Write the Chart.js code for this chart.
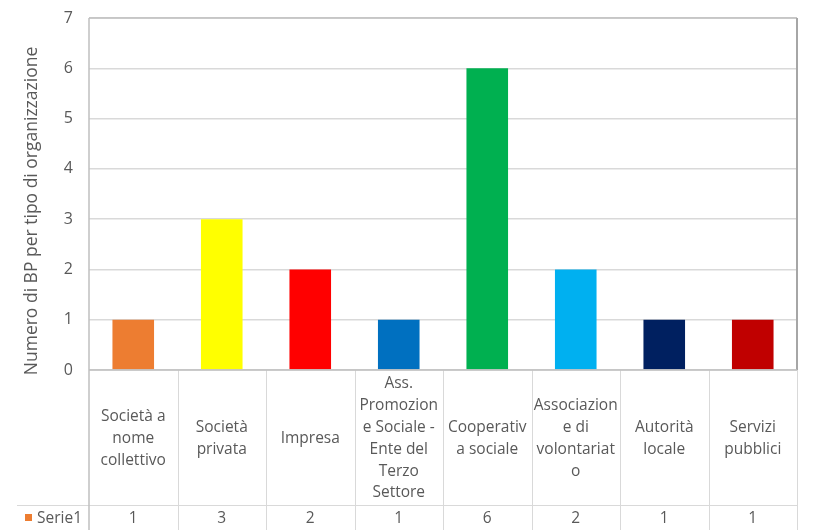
<!DOCTYPE html>
<html><head><meta charset="utf-8">
<script src="https://cdn.jsdelivr.net/npm/chart.js@4"></script>
<style>html,body{margin:0;padding:0;background:#fff}#wrap{width:815px;height:530px;position:relative}</style>
</head><body><div id="wrap"><canvas id="c" width="815" height="530"></canvas></div>
<script>
const categories = [["Società a","nome","collettivo"],["Società","privata"],["Impresa"],["Ass.","Promozion","e Sociale -","Ente del","Terzo","Settore"],["Cooperativ","a sociale"],["Associazion","e di","volontariat","o"],["Autorità","locale"],["Servizi","pubblici"]];
const seriesName = "Serie1";
const values = [1,3,2,1,6,2,1,1];
const barColors = ["#ED7D31","#FFFF00","#FF0000","#0070C0","#00B050","#00B0F0","#002060","#C00000"];
const yTicks = [0,1,2,3,4,5,6,7];
const yTitle = "Numero di BP per tipo di organizzazione";

const FONT = "'Open Sans', sans-serif";
const TXT = "#595959";
const GRID = "#D9D9D9";

const tablePlugin = {
  id: 'tablePlugin',
  afterDraw(chart) {
    const ctx = chart.ctx;
    const ca = chart.chartArea;
    const x = chart.scales.x;
    const H = chart.height;
    const rowY = 505;
    ctx.save();
    // plot border
    ctx.strokeStyle = "#BFBFBF";
    ctx.lineWidth = 1.5;
    ctx.beginPath();
    ctx.moveTo(ca.left, ca.top); ctx.lineTo(ca.right, ca.top);
    ctx.stroke();
    ctx.strokeStyle = "#A6A6A6";
    ctx.lineWidth = 2;
    ctx.beginPath();
    ctx.moveTo(ca.right, ca.top); ctx.lineTo(ca.right, ca.bottom);
    ctx.stroke();
    // table grid
    ctx.strokeStyle = GRID;
    ctx.lineWidth = 1;
    const n = categories.length;
    const step = (ca.right - ca.left) / n;
    ctx.beginPath();
    for (let i = 1; i <= n; i++) {
      const xx = Math.round(ca.left + step * i) + 0.5;
      ctx.moveTo(xx, ca.bottom); ctx.lineTo(xx, H);
    }
    ctx.moveTo(17, rowY + 0.5); ctx.lineTo(ca.right, rowY + 0.5);
    ctx.stroke();
    // left axis line
    ctx.strokeStyle = "#BFBFBF";
    ctx.lineWidth = 1.5;
    ctx.beginPath();
    ctx.moveTo(ca.left, ca.top); ctx.lineTo(ca.left, H);
    ctx.stroke();
    // zero line
    ctx.beginPath();
    ctx.moveTo(ca.left, ca.bottom); ctx.lineTo(ca.right, ca.bottom);
    ctx.stroke();
    // labels
    ctx.fillStyle = TXT;
    ctx.font = "15.5px " + FONT;
    ctx.textAlign = "center";
    ctx.textBaseline = "middle";
    const lh = 21.8;
    const cy = (ca.bottom + rowY) / 2 + 1;
    categories.forEach((lines, i) => {
      const cx = x.getPixelForValue(i);
      const y0 = cy - (lines.length - 1) * lh / 2;
      lines.forEach((t, k) => ctx.fillText(t, cx, y0 + k * lh));
      ctx.fillText(String(values[i]), cx, (rowY + H) / 2 + 1);
    });
    // legend key
    ctx.fillStyle = barColors[0];
    ctx.fillRect(25, 514, 7, 7);
    ctx.fillStyle = TXT;
    ctx.textAlign = "left";
    ctx.fillText(seriesName, 37, (rowY + H) / 2 + 1);
    // y title
    ctx.translate(32, 211);
    ctx.rotate(-Math.PI / 2);
    ctx.textAlign = "center";
    ctx.font = "17.5px " + FONT;
    ctx.fillText(yTitle, 0, 0);
    ctx.restore();
  }
};

new Chart(document.getElementById('c'), {
  type: 'bar',
  data: {
    labels: categories,
    datasets: [{ label: seriesName, data: values, backgroundColor: barColors, borderWidth: 0,
      barPercentage: 0.47, categoryPercentage: 1 }]
  },
  options: {
    responsive: false, animation: false, devicePixelRatio: 1,
    layout: { padding: { left: 0, right: 18, top: 18, bottom: 160 } },
    plugins: { legend: { display: false }, tooltip: { enabled: false } },
    scales: {
      x: { display: false },
      y: {
        min: 0, max: 7,
        afterBuildTicks(s) { s.ticks = yTicks.map(v => ({ value: v })); },
        afterFit(s) { s.width = 89; s.paddingTop = 0; s.paddingBottom = 0; },
        ticks: { color: TXT, font: { size: 16, family: FONT }, padding: 16 },
        grid: { color: GRID, drawTicks: false, lineWidth: 1.5 },
        border: { display: false }
      }
    }
  },
  plugins: [tablePlugin]
});
</script></body></html>
